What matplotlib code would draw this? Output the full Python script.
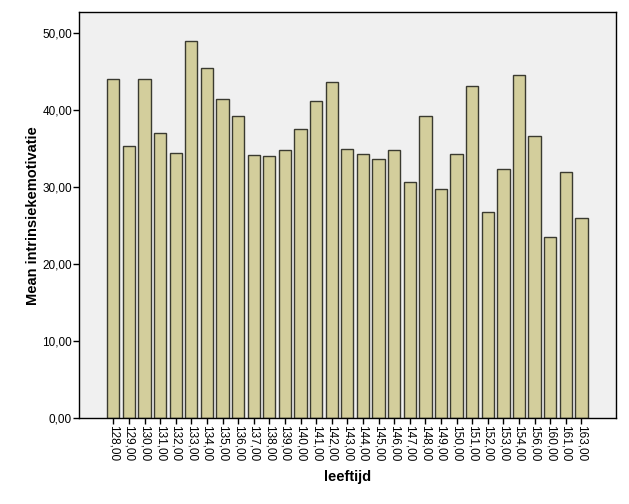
import matplotlib
matplotlib.use("Agg")
import matplotlib.pyplot as plt
import numpy as np

plt.rcParams['font.family'] = ['Liberation Sans', 'DejaVu Sans']

# leeftijd categories and mean intrinsiekemotivatie per category
leeftijd = ["128,00", "129,00", "130,00", "131,00", "132,00", "133,00", "134,00",
            "135,00", "136,00", "137,00", "138,00", "139,00", "140,00", "141,00",
            "142,00", "143,00", "144,00", "145,00", "146,00", "147,00", "148,00",
            "149,00", "150,00", "151,00", "152,00", "153,00", "154,00", "156,00",
            "160,00", "161,00", "163,00"]
mean_motivatie = [44.0, 35.4, 44.0, 37.0, 34.4, 49.0, 45.5, 41.4, 39.3, 34.2, 34.0,
                  34.8, 37.6, 41.2, 43.7, 35.0, 34.3, 33.7, 34.8, 30.7, 39.3, 29.8,
                  34.3, 43.1, 26.8, 32.4, 44.5, 36.6, 23.5, 32.0, 26.0]
y_ticks = [0, 10, 20, 30, 40, 50]
y_tick_labels = ["0,00", "10,00", "20,00", "30,00", "40,00", "50,00"]

fig = plt.figure(figsize=(6.29, 5.04), dpi=100)
ax = fig.add_axes([0.1256, 0.170, 0.8537, 0.8056])
ax.set_facecolor('#F0F0F0')

x = np.arange(len(leeftijd))
ax.bar(x, mean_motivatie, width=0.79, color='#D3CE9C', edgecolor='#3a3a30',
       linewidth=1.0, zorder=2)

ax.set_xlim(-2.2, len(leeftijd) - 1 + 2.22)
ax.set_ylim(0, 52.7)

ax.set_yticks(y_ticks)
ax.set_yticklabels(y_tick_labels, fontsize=8.5)
ax.set_xticks(x)
ax.set_xticklabels(leeftijd, rotation=270, fontsize=8.5, va='top', ha='center')

ax.tick_params(axis='both', direction='out', length=4, width=1, color='black', pad=1)

for side in ['left', 'bottom', 'top', 'right']:
    ax.spines[side].set_color('black')
    ax.spines[side].set_linewidth(1.0)

ax.set_xlabel('leeftijd', fontsize=10.5, fontweight='bold', labelpad=6)
ax.set_ylabel('Mean intrinsiekemotivatie', fontsize=10.5, fontweight='bold', labelpad=2)

fig.savefig('out.png', dpi=100, facecolor='white')
